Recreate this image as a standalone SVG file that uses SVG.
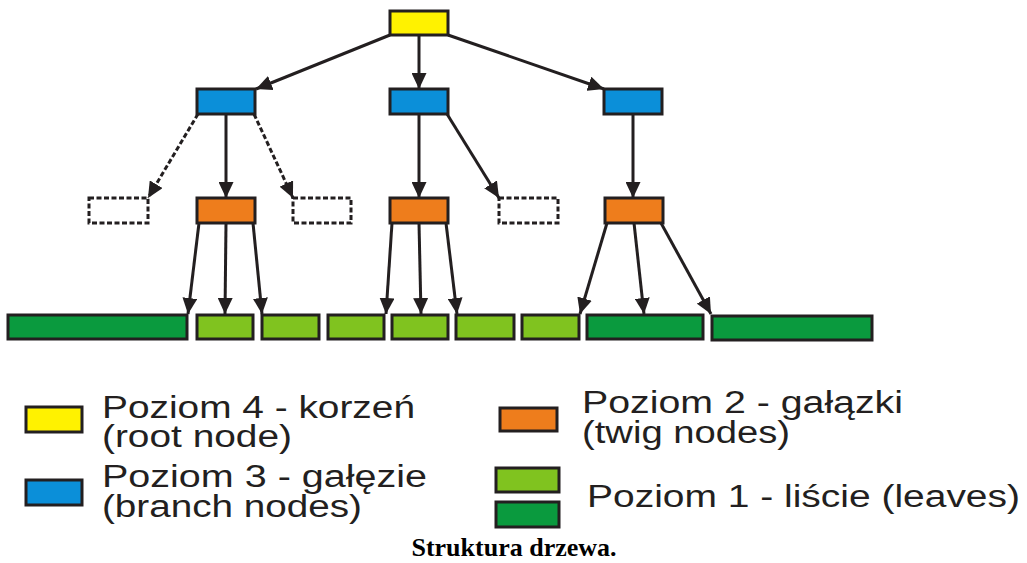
<svg xmlns="http://www.w3.org/2000/svg" width="1027" height="563" viewBox="0 0 1027 563">
  <style>
    .node { stroke: #231f20; stroke-width: 3; }
    .root { fill: #fff200; }
    .branch { fill: #0b8fd9; }
    .twig { fill: #ee7d1c; }
    .leaf-l { fill: #80c31f; }
    .leaf-d { fill: #0a9a3e; }
    .empty { fill: #ffffff; stroke: #231f20; stroke-width: 3; stroke-dasharray: 5 2.5; }
    .edge { stroke: #231f20; stroke-width: 3; fill: none; marker-end: url(#arrow); }
    .dashed { stroke-dasharray: 5 2.5; }
    .legend { font-family: "Liberation Sans", Arial, sans-serif; font-size: 31px; fill: #231f20; }
    .caption { font-family: "Liberation Serif", "Times New Roman", serif; font-size: 26px; font-weight: bold; fill: #000000; }
  </style>
  <defs>
    <marker id="arrow" markerUnits="userSpaceOnUse" markerWidth="17" markerHeight="15" refX="16" refY="7.5" orient="auto">
      <path d="M0,0 L16,7.5 L0,15 Z" fill="#231f20"/>
    </marker>
  </defs>

  <rect width="1027" height="563" fill="#ffffff"/>

  <!-- connectors -->
  <g id="connectors">
    <!-- root to branches -->
    <line class="edge" x1="390" y1="35" x2="256" y2="89"/>
    <line class="edge" x1="419" y1="35" x2="419" y2="89"/>
    <line class="edge" x1="448" y1="35" x2="604" y2="89"/>
    <!-- left branch -->
    <line class="edge dashed" x1="198" y1="114" x2="148" y2="198"/>
    <line class="edge" x1="226" y1="114" x2="226" y2="198"/>
    <line class="edge dashed" x1="254" y1="114" x2="293" y2="198"/>
    <!-- middle branch -->
    <line class="edge" x1="419" y1="114" x2="419" y2="198"/>
    <line class="edge" x1="447" y1="114" x2="499" y2="198"/>
    <!-- right branch -->
    <line class="edge" x1="633" y1="114" x2="633" y2="198"/>
    <!-- left twig to leaves -->
    <line class="edge" x1="199" y1="223" x2="188" y2="314"/>
    <line class="edge" x1="226" y1="223" x2="225" y2="314"/>
    <line class="edge" x1="253" y1="223" x2="262" y2="314"/>
    <!-- middle twig to leaves -->
    <line class="edge" x1="392" y1="223" x2="386" y2="314"/>
    <line class="edge" x1="419" y1="223" x2="421" y2="314"/>
    <line class="edge" x1="446" y1="223" x2="457" y2="314"/>
    <!-- right twig to leaves -->
    <line class="edge" x1="607" y1="223" x2="580" y2="314"/>
    <line class="edge" x1="634" y1="223" x2="644" y2="314"/>
    <line class="edge" x1="661" y1="223" x2="711" y2="314"/>
  </g>

  <!-- level 4 -->
  <g id="root"><rect class="node root" x="390" y="11" width="58" height="24"/></g>

  <!-- level 3 -->
  <g id="branch-left"><rect class="node branch" x="197" y="89" width="58" height="25"/></g>
  <g id="branch-middle"><rect class="node branch" x="390" y="89" width="58" height="25"/></g>
  <g id="branch-right"><rect class="node branch" x="604" y="89" width="58" height="25"/></g>

  <!-- level 2 -->
  <g id="empty-1"><rect class="empty" x="89" y="198" width="59" height="25"/></g>
  <g id="twig-left"><rect class="node twig" x="197" y="198" width="58" height="25"/></g>
  <g id="empty-2"><rect class="empty" x="293" y="198" width="58" height="25"/></g>
  <g id="twig-middle"><rect class="node twig" x="390" y="198" width="58" height="25"/></g>
  <g id="empty-3"><rect class="empty" x="499" y="198" width="59" height="25"/></g>
  <g id="twig-right"><rect class="node twig" x="605" y="198" width="58" height="25"/></g>

  <!-- level 1 -->
  <g id="leaf-1"><rect class="node leaf-d" x="8" y="315" width="179" height="24"/></g>
  <g id="leaf-2"><rect class="node leaf-l" x="197" y="315" width="56" height="24"/></g>
  <g id="leaf-3"><rect class="node leaf-l" x="262" y="315" width="57" height="24"/></g>
  <g id="leaf-4"><rect class="node leaf-l" x="328" y="315" width="56" height="24"/></g>
  <g id="leaf-5"><rect class="node leaf-l" x="392" y="315" width="56" height="24"/></g>
  <g id="leaf-6"><rect class="node leaf-l" x="456" y="315" width="58" height="24"/></g>
  <g id="leaf-7"><rect class="node leaf-l" x="522" y="315" width="57" height="24"/></g>
  <g id="leaf-8"><rect class="node leaf-d" x="587" y="315" width="116" height="24"/></g>
  <g id="leaf-9"><rect class="node leaf-d" x="712" y="316" width="160" height="24"/></g>

  <!-- legend -->
  <g id="legend">
    <rect class="node root" x="26" y="407" width="56" height="25"/>
    <text class="legend" x="102" y="418" textLength="313" lengthAdjust="spacingAndGlyphs">Poziom 4 - korzeń</text>
    <text class="legend" x="102" y="447" textLength="190" lengthAdjust="spacingAndGlyphs">(root node)</text>

    <rect class="node branch" x="26" y="480" width="56" height="25"/>
    <text class="legend" x="102" y="487" textLength="325" lengthAdjust="spacingAndGlyphs">Poziom 3 - gałęzie</text>
    <text class="legend" x="102" y="517" textLength="260" lengthAdjust="spacingAndGlyphs">(branch nodes)</text>

    <rect class="node twig" x="500" y="408" width="57" height="23"/>
    <text class="legend" x="582" y="413" textLength="321" lengthAdjust="spacingAndGlyphs">Poziom 2 - gałązki</text>
    <text class="legend" x="582" y="443" textLength="208" lengthAdjust="spacingAndGlyphs">(twig nodes)</text>

    <rect class="node leaf-l" x="496" y="468" width="63" height="24"/>
    <rect class="node leaf-d" x="496" y="502" width="63" height="25"/>
    <text class="legend" x="587" y="507" textLength="433" lengthAdjust="spacingAndGlyphs">Poziom 1 - liście (leaves)</text>
  </g>

  <text class="caption" x="514" y="556" text-anchor="middle">Struktura drzewa.</text>
</svg>
